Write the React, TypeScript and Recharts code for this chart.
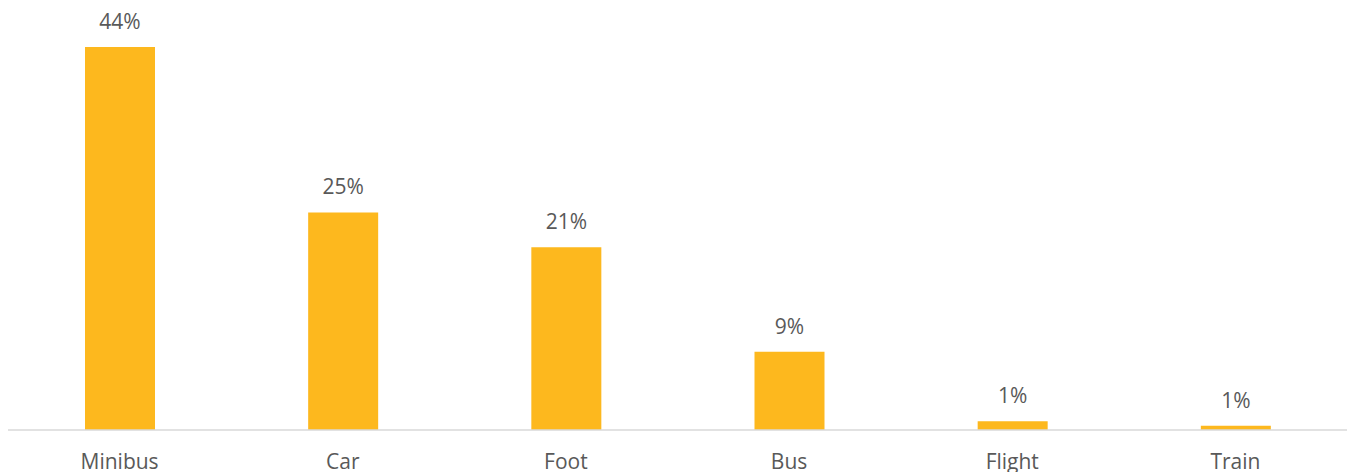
import { BarChart, Bar, XAxis, YAxis, LabelList } from 'recharts';

const MODES = ['Minibus', 'Car', 'Foot', 'Bus', 'Flight', 'Train'];
const SHARES = [44, 25, 21, 9, 1.0, 0.5];

const chartData = MODES.map((mode, i) => ({ mode, share: SHARES[i] }));

export default function App() {
  return (
    <BarChart
      width={1339}
      height={464}
      data={chartData}
      margin={{ top: 39, right: 0, left: 0, bottom: 0 }}
      barCategoryGap={0}
    >
      <XAxis
        dataKey="mode"
        height={42}
        tickLine={false}
        tickSize={0}
        tickMargin={24}
        axisLine={{ stroke: '#d9d9d9', strokeWidth: 1.5 }}
        tick={{ fill: '#595959', fontSize: 21, fontFamily: 'Open Sans' }}
        interval={0}
      />
      <YAxis hide domain={[0, 44]} />
      <Bar dataKey="share" fill="#FDB81E" barSize={70} isAnimationActive={false}>
        <LabelList
          dataKey="share"
          position="top"
          offset={18}
          formatter={(v: number) => `${Math.round(v)}%`}
          style={{ fill: '#595959', fontSize: 21, fontFamily: 'Open Sans' }}
        />
      </Bar>
    </BarChart>
  );
}
